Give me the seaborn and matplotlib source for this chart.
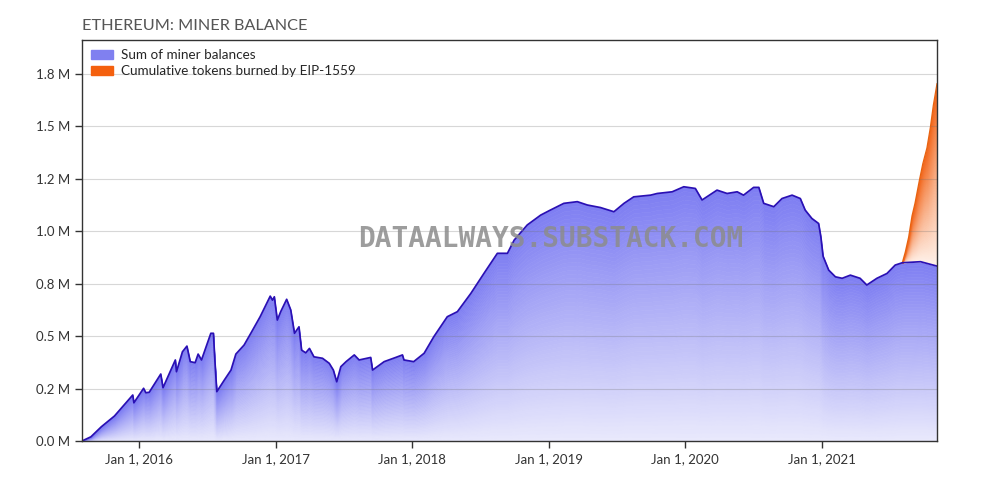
import matplotlib
matplotlib.use("Agg")
import matplotlib.pyplot as plt
import matplotlib.dates as mdates
from matplotlib.colors import to_rgb
from matplotlib.patches import Patch
import numpy as np
import pandas as pd
import seaborn as sns

# miner balance, millions of ETH
miner_dates = [
    "2015-08-01", "2015-08-25", "2015-09-22", "2015-10-27", "2015-12-15", "2015-12-18",
    "2016-01-13", "2016-01-19", "2016-01-28", "2016-02-28", "2016-03-05", "2016-04-07",
    "2016-04-10", "2016-04-26", "2016-05-08", "2016-05-17", "2016-05-30", "2016-06-07",
    "2016-06-16", "2016-07-11", "2016-07-18", "2016-07-21", "2016-07-27", "2016-08-16",
    "2016-09-03", "2016-09-16", "2016-10-08", "2016-10-26", "2016-11-20", "2016-12-17",
    "2016-12-23", "2016-12-28", "2017-01-05", "2017-01-14", "2017-01-30", "2017-02-10",
    "2017-02-20", "2017-03-04", "2017-03-11", "2017-03-22", "2017-04-01", "2017-04-13",
    "2017-05-06", "2017-05-24", "2017-06-04", "2017-06-13", "2017-06-24", "2017-07-08",
    "2017-07-30", "2017-08-12", "2017-09-12", "2017-09-17", "2017-10-18", "2017-11-18",
    "2017-12-06", "2017-12-10", "2018-01-05", "2018-02-02", "2018-02-28", "2018-04-05",
    "2018-05-02", "2018-06-07", "2018-07-12", "2018-08-17", "2018-09-13", "2018-10-01",
    "2018-11-05", "2018-12-11", "2019-01-06", "2019-02-11", "2019-03-19", "2019-04-15",
    "2019-05-20", "2019-06-25", "2019-07-22", "2019-08-17", "2019-10-01", "2019-10-19",
    "2019-11-28", "2019-12-29", "2020-01-29", "2020-02-16", "2020-03-27", "2020-04-23",
    "2020-05-20", "2020-06-06", "2020-07-03", "2020-07-17", "2020-07-30", "2020-08-26",
    "2020-09-17", "2020-10-14", "2020-11-05", "2020-11-18", "2020-12-06", "2020-12-24",
    "2020-12-30", "2021-01-05", "2021-01-20", "2021-02-07", "2021-02-25", "2021-03-19",
    "2021-04-14", "2021-05-02", "2021-05-29", "2021-06-25", "2021-07-17", "2021-08-05",
    "2021-09-23", "2021-11-06",
]
miner_balance = [
    0.000, 0.020, 0.068, 0.119, 0.219, 0.182,
    0.251, 0.230, 0.232, 0.319, 0.254, 0.386,
    0.330, 0.425, 0.452, 0.378, 0.373, 0.414,
    0.386, 0.513, 0.513, 0.410, 0.235, 0.290,
    0.338, 0.414, 0.457, 0.513, 0.592, 0.690,
    0.671, 0.687, 0.576, 0.616, 0.675, 0.624,
    0.513, 0.544, 0.433, 0.420, 0.441, 0.401,
    0.394, 0.370, 0.338, 0.282, 0.354, 0.378,
    0.410, 0.386, 0.398, 0.338, 0.378, 0.398,
    0.410, 0.386, 0.378, 0.418, 0.497, 0.592,
    0.616, 0.703, 0.798, 0.894, 0.894, 0.957,
    1.029, 1.076, 1.100, 1.132, 1.140, 1.124,
    1.112, 1.092, 1.132, 1.163, 1.171, 1.179,
    1.187, 1.211, 1.203, 1.148, 1.195, 1.179,
    1.187, 1.171, 1.208, 1.208, 1.132, 1.116,
    1.155, 1.171, 1.155, 1.100, 1.060, 1.036,
    0.973, 0.880, 0.814, 0.782, 0.775, 0.790,
    0.775, 0.743, 0.775, 0.798, 0.838, 0.849,
    0.854, 0.833,
]

# cumulative burned by EIP-1559, millions of ETH
burn_dates = [
    "2021-08-05", "2021-08-13", "2021-08-22", "2021-08-31", "2021-09-08", "2021-09-20",
    "2021-09-29", "2021-10-10", "2021-10-19", "2021-10-27", "2021-11-06",
]
burned = [0.00, 0.05, 0.12, 0.22, 0.28, 0.39, 0.47, 0.55, 0.65, 0.76, 0.87]

y_ticks = [0, 0.25, 0.5, 0.75, 1.0, 1.25, 1.5, 1.75]

df = pd.DataFrame({"date": pd.to_datetime(miner_dates), "balance": miner_balance})
bdf = pd.DataFrame({"date": pd.to_datetime(burn_dates), "burned": burned})
# put the burn on top of the miner line
bdf["base"] = np.interp(mdates.date2num(bdf["date"]), mdates.date2num(df["date"]), df["balance"])
bdf["top"] = bdf["base"] + bdf["burned"]

sns.set_theme(style="white")
plt.rcParams["font.family"] = ["Lato", "DejaVu Sans"]

fig = plt.figure(figsize=(10.08, 5.04), dpi=100)
ax = fig.add_axes([0.0813, 0.125, 0.8483, 0.7956])


def grad_fill(x, lo, hi, c_lo, c_hi, n=60):
    # linear colour ramp from the bottom (lo) up to the line (hi)
    c_lo, c_hi = np.array(to_rgb(c_lo)), np.array(to_rgb(c_hi))
    ks = np.linspace(0, 1, n + 1)
    for i in range(n):
        c = c_lo + (c_hi - c_lo) * (ks[i] + ks[i + 1]) / 2
        ax.fill_between(x, lo + (hi - lo) * ks[i], lo + (hi - lo) * ks[i + 1],
                        facecolor=c, edgecolor=c, lw=0.4, zorder=1)


grad_fill(df["date"], 0, df["balance"], "#eaeafc", "#7e7ef2")
grad_fill(bdf["date"], bdf["base"], bdf["top"], "#fff2ea", "#f26a20")
ax.plot(bdf["date"], bdf["top"], color="#e8620f", lw=0.9, zorder=2)

sns.lineplot(data=df, x="date", y="balance", ax=ax, color="#2a10b4", lw=1.25, zorder=3)

ax.set_xlim(df["date"].iloc[0], df["date"].iloc[-1])
ax.set_ylim(0, 1.91)
ax.set_yticks(y_ticks)
ax.yaxis.set_major_formatter(plt.FuncFormatter(lambda v, p: f"{v:.1f} M"))
ax.xaxis.set_major_locator(mdates.YearLocator())
ax.xaxis.set_major_formatter(mdates.DateFormatter("%b %-d, %Y"))
ax.set_xlabel("")
ax.set_ylabel("")
ax.set_axisbelow("line")
ax.grid(axis="y", color="#707070", alpha=0.28, lw=0.8)
for s in ax.spines.values():
    s.set_color("#333333")
    s.set_linewidth(1.0)
    s.set_zorder(5)
ax.tick_params(axis="both", colors="#333333", labelsize=9.5, length=5, width=1,
               direction="out", bottom=True, left=True, labelcolor="#333333")

handles = [Patch(color="#8080f0", label="Sum of miner balances"),
           Patch(color="#f4600e", label="Cumulative tokens burned by EIP-1559")]
ax.legend(handles=handles, loc="upper left", frameon=False, fontsize=9.7,
          handlelength=1.6, handleheight=0.7, handletextpad=0.6,
          borderaxespad=0.3, labelspacing=0.3)

ax.text(0.0, 1.018, "ETHEREUM: MINER BALANCE", transform=ax.transAxes,
        fontsize=11.7, color="#555555", ha="left", va="bottom")

ax.text(0.548, 0.505, "DATAALWAYS.SUBSTACK.COM", transform=ax.transAxes,
        family="DejaVu Sans Mono", fontweight="bold", fontsize=20,
        color="#8c8c8c", alpha=0.85, ha="center", va="center", zorder=10)

fig.savefig("out.png", dpi=100)
